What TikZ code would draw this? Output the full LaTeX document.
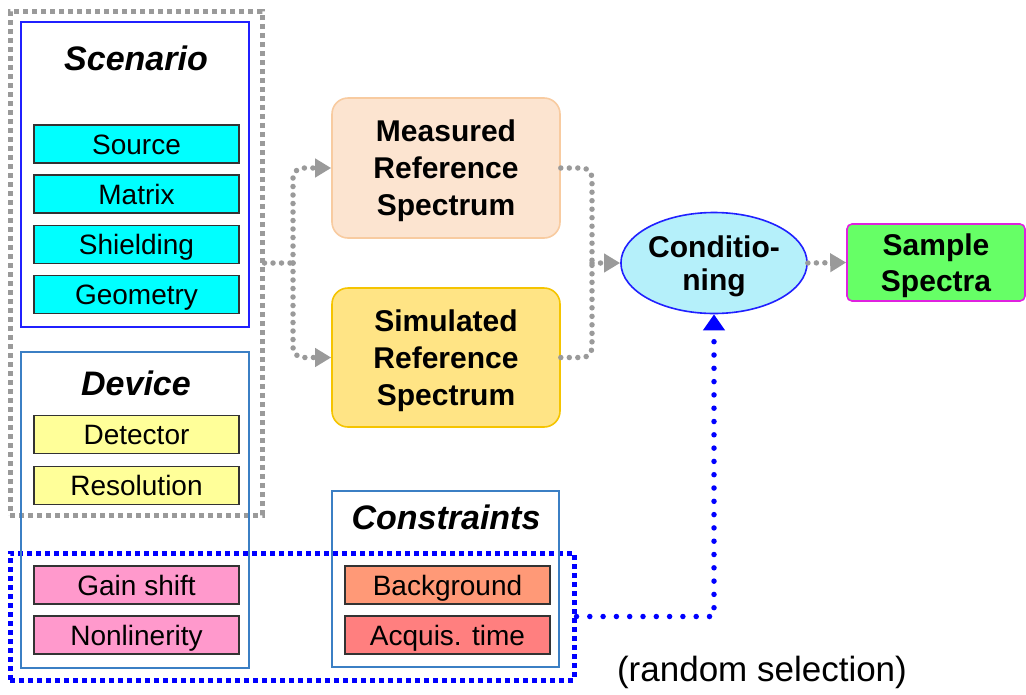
\documentclass[tikz,border=0pt]{standalone}
\usepackage{fontspec}
\setmainfont{Liberation Sans}
\usetikzlibrary{arrows.meta,shapes.geometric}
\definecolor{cyanbox}{HTML}{00FFFF}
\definecolor{yelbox}{HTML}{FFFF99}
\definecolor{pinkbox}{HTML}{FF99CC}
\definecolor{bgbox}{HTML}{FF9977}
\definecolor{acqbox}{HTML}{FF7F7F}
\definecolor{measfill}{HTML}{FCE4D0}
\definecolor{measline}{HTML}{F8CBA0}
\definecolor{simfill}{HTML}{FFE485}
\definecolor{simline}{HTML}{F5C400}
\definecolor{condfill}{HTML}{B5F0FA}
\definecolor{condline}{HTML}{2020FF}
\definecolor{sampfill}{HTML}{66FF66}
\definecolor{sampline}{HTML}{E020E0}
\definecolor{grp}{HTML}{3B7FC4}
\definecolor{dotgray}{HTML}{9A9A9A}
\definecolor{edge}{HTML}{333333}
\tikzset{
  item/.style={draw=edge, line width=1.6pt, minimum width=205pt, minimum height=38pt,
    inner sep=0pt, text height=20pt, text depth=0pt, font=\fontsize{28}{32}\selectfont},
  group/.style={draw=grp, line width=1.5pt, inner sep=0pt},
  gtitle/.style={font=\fontsize{34}{40}\selectfont\bfseries\itshape},
  refbox/.style={rounded corners=16pt, line width=1.6pt, minimum width=228pt,
    minimum height=140pt, align=center, text depth=0pt, font=\fontsize{30}{37}\selectfont\bfseries},
  graybox/.style={draw=dotgray, line width=5pt, dash pattern=on 5pt off 4pt, inner sep=0pt},
  bluebox/.style={draw=blue, line width=5pt, dash pattern=on 5pt off 4pt, inner sep=0pt},
  grayconn/.style={draw=dotgray, line width=5.5pt, line cap=round, dash pattern=on 0pt off 8.5pt,
    rounded corners=10pt, -{Triangle[length=16pt,width=18pt,fill=dotgray]}},
  grayline/.style={draw=dotgray, line width=5.5pt, line cap=round, dash pattern=on 0pt off 8.5pt,
    rounded corners=10pt},
  blueconn/.style={draw=blue, line width=5.5pt, line cap=round, dash pattern=on 0pt off 13.3pt,
    -{Triangle[length=16pt,width=21pt,fill=blue]}}
}
\begin{document}
\begin{tikzpicture}[x=1pt,y=-1pt]
\useasboundingbox (0,0) rectangle (1026,694);
% dotted grouping boxes
\node[graybox, minimum width=252pt, minimum height=504pt] (outer) at (136,263) {};
\node[bluebox, minimum width=564pt, minimum height=127pt] (sel) at (292,616.5) {};
% groups
\node[draw=condline, line width=1.5pt, inner sep=0pt, minimum width=228pt, minimum height=305pt] (scen) at (135,174.5) {};
\node[group, minimum width=228pt, minimum height=316pt] (dev) at (135,510) {};
\node[group, minimum width=227pt, minimum height=176pt] (cons) at (445.5,579) {};
\node[gtitle] (scent) at (136,58) {Scenario};
\node[gtitle] (devt) at (136,383) {Device};
\node[gtitle] (const) at (446,517) {Constraints};
% items
\node[item, fill=cyanbox] (src) at (136.5,144) {Source};
\node[item, fill=cyanbox] (mat) at (136.5,194) {Matrix};
\node[item, fill=cyanbox] (shd) at (136.5,244.5) {Shielding};
\node[item, fill=cyanbox] (geo) at (136.5,294.5) {Geometry};
\node[item, fill=yelbox] (det) at (136.5,434.5) {Detector};
\node[item, fill=yelbox] (res) at (136.5,485.5) {Resolution};
\node[item, fill=pinkbox] (gain) at (136.5,585) {Gain shift};
\node[item, fill=pinkbox] (nonl) at (136.5,635) {Nonlinerity};
\node[item, fill=bgbox] (bkg) at (447.5,585) {Background};
\node[item, fill=acqbox] (acq) at (447.5,635) {Acquis. time};
% reference spectra
\node[refbox, draw=measline, fill=measfill] (meas) at (446,168) {Measured\\Reference\\Spectrum};
\node[refbox, draw=simline, fill=simfill, minimum height=139pt] (sim) at (446,357.5) {Simulated\\Reference\\Spectrum};
\node[ellipse, draw=condline, fill=condfill, line width=1.6pt, minimum width=178pt, minimum height=101pt,
  inner sep=0pt, align=center, text depth=0pt, font=\fontsize{30}{33}\selectfont\bfseries] (cond) at (714,263) {Conditio-\\ning};
\node[draw=sampline, fill=sampfill, line width=1.6pt, rounded corners=5pt, minimum width=178pt,
  minimum height=77pt, inner sep=0pt, align=center, text depth=0pt, font=\fontsize{30}{36}\selectfont\bfseries] (samp) at (936,262.5) {Sample\\Spectra};
\node[font=\fontsize{35}{40}\selectfont] (rand) at (762,672) {(random selection)};
% connectors
\coordinate (split) at (293,263);
\coordinate (join) at (592,263);
\draw[grayline] (outer.east) -- (split);
\draw[grayconn] (split) |- (meas.west);
\draw[grayconn] (split) |- (sim.west);
\draw[grayline] (meas.east) -| (join);
\draw[grayline] (sim.east) -| (join);
\draw[grayconn] (join) -- (cond.west);
\draw[grayconn] (cond.east) -- (samp.west);
\draw[blueconn] (sel.east) -| (cond.south);
\end{tikzpicture}
\end{document}
